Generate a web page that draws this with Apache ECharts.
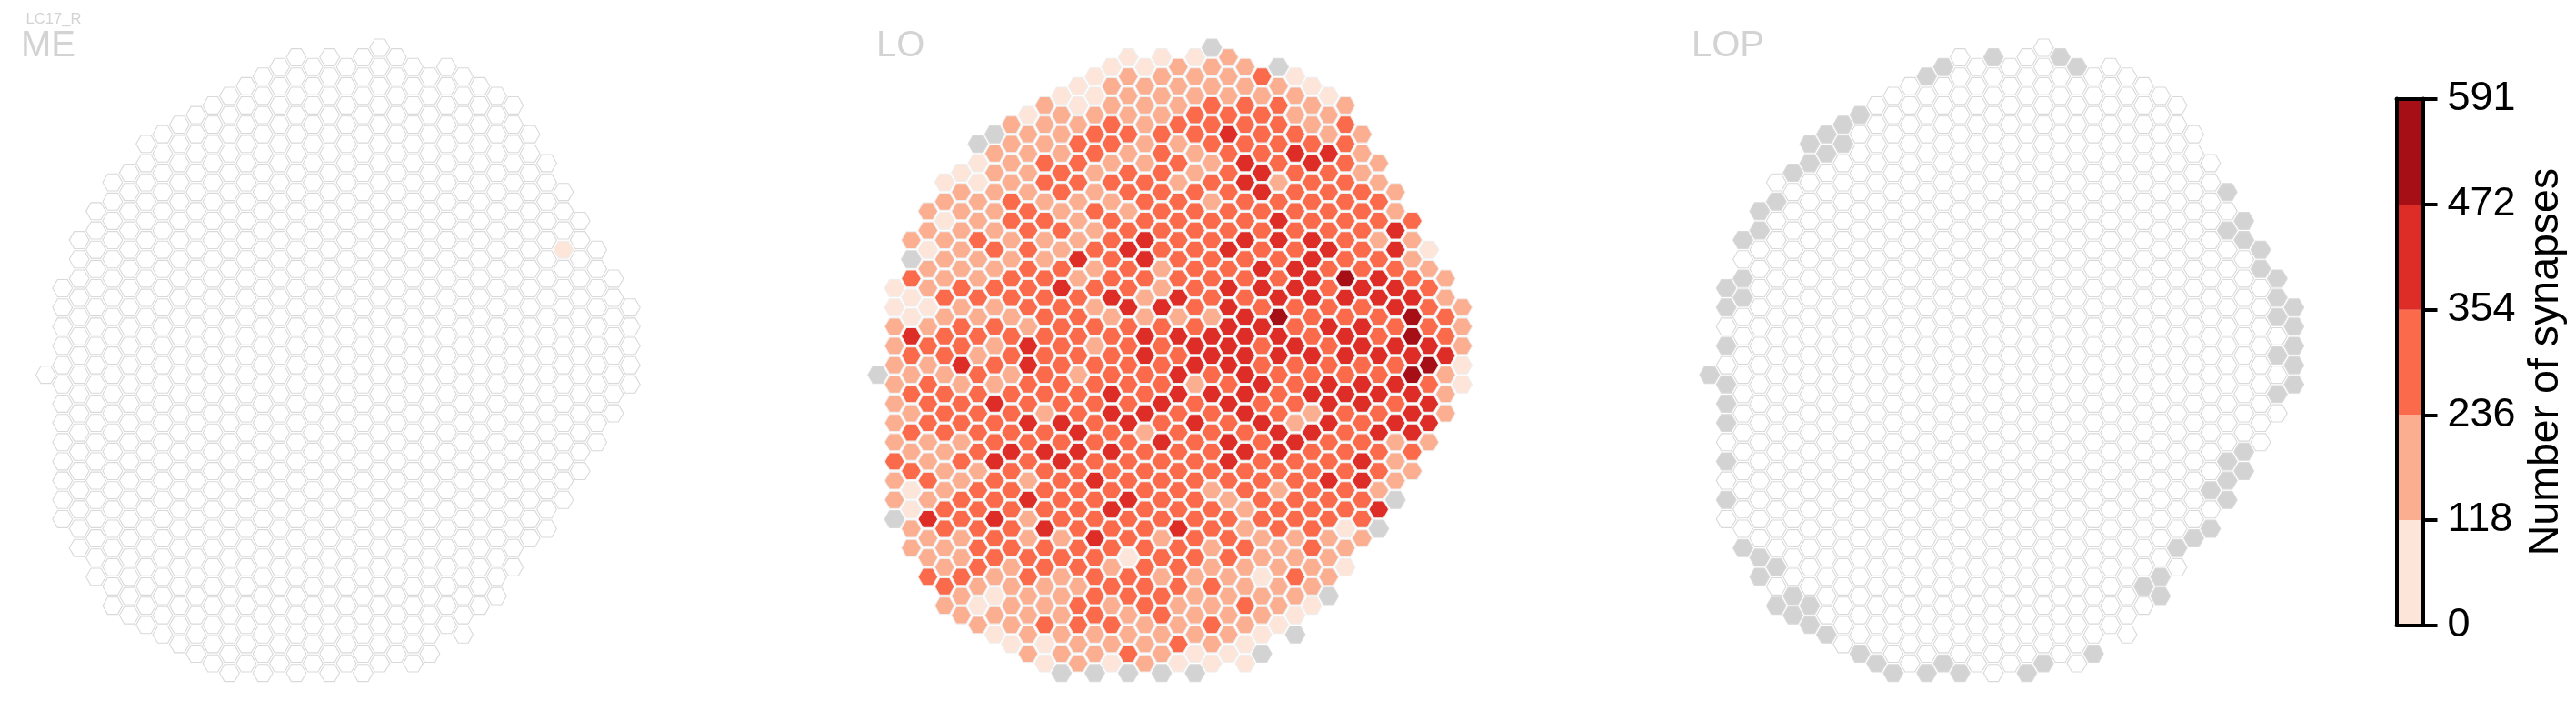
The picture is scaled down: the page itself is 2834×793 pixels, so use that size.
<!DOCTYPE html>
<html>
<head>
<meta charset="utf-8">
<style>html,body{margin:0;padding:0;background:#fff}#c{width:2834px;height:793px}</style>
<script src="https://cdn.jsdelivr.net/npm/echarts@6/dist/echarts.min.js"></script>
</head>
<body>
<div id="c"></div>
<script>
// Colour bins and colour-bar ticks
const BIN_EDGES = [0, 118, 236, 354, 472, 591];
const BIN_COLORS = ['#fee5d9', '#fcae91', '#fb6a4a', '#de2d26', '#a50f15'];
const EMPTY_COLOR = '#d3d3d3';
const NEURON = 'LC17_R';
const REGIONS = ['ME', 'LO', 'LOP'];
const COLORBAR_TITLE = 'Number of synapses';

// Hex lattice: first half-row of each column (all three regions share it)
const COLUMN_FIRST_ROW = [34,25,20,17,14,13,10,9,8,7,6,5,4,3,2,1,2,1,2,1,0,1,2,3,2,3,4,5,6,9,12,15,18,21,24,27];
const COLUMN_LENGTH = [1,13,17,20,23,24,26,27,28,29,30,31,31,32,32,33,32,33,32,33,33,32,32,31,30,30,28,27,25,22,20,17,14,11,8,5];

// LO: synapses per hex, column by column (0 = innervated column without synapses)
const LO_VALUES = [
[0],
[59,59,177,177,177,177,177,177,177,295,177,177,0],
[177,0,295,59,59,413,295,177,295,177,295,177,295,59,59,177,177],
[177,177,59,177,177,59,177,295,177,295,295,295,177,177,295,177,413,177,177,295],
[59,177,59,177,177,177,295,177,295,295,177,295,295,295,177,177,177,295,295,177,177,295,177],
[59,177,177,177,177,177,295,177,295,295,413,177,295,295,177,295,177,295,295,177,177,295,177,177],
[0,59,59,177,177,295,177,177,295,177,295,177,295,295,295,295,295,177,295,295,295,295,295,177,59,177],
[0,177,177,177,177,177,295,177,295,177,295,177,295,177,413,295,295,413,295,295,413,295,295,177,59,177,59],
[177,177,177,177,295,295,177,177,295,295,177,295,295,177,295,295,295,413,295,295,295,295,295,177,177,177,177,59],
[59,177,177,177,177,295,295,295,295,295,295,177,413,413,295,295,413,295,295,177,413,177,177,295,295,177,177,177,177],
[177,177,177,295,295,177,295,177,177,295,295,295,295,295,295,295,177,295,413,295,295,295,413,295,295,177,177,295,59,59],
[59,177,177,177,295,295,177,295,177,295,413,295,295,295,295,295,295,413,295,413,295,295,295,177,295,177,177,177,177,177,0],
[59,59,177,295,295,295,177,177,177,413,177,295,295,295,295,177,295,295,413,413,295,295,295,295,295,295,177,295,295,177,177],
[59,59,177,295,295,177,177,295,177,295,177,295,177,295,177,295,295,295,295,295,295,413,295,295,413,295,295,295,295,177,177,0],
[59,177,177,295,295,177,295,177,295,295,295,295,413,177,295,295,295,413,413,295,413,295,295,413,295,295,177,295,177,295,177,59],
[59,177,177,177,295,177,295,295,177,295,413,295,295,413,295,295,295,295,295,413,295,295,295,413,295,295,59,295,295,177,177,295,0],
[59,177,177,177,177,177,295,295,295,413,413,295,177,177,413,413,295,295,413,177,295,295,295,295,295,295,295,295,295,177,177,177],
[59,177,177,177,295,295,295,295,295,295,295,177,177,413,295,295,295,295,413,295,413,295,295,295,295,177,295,177,295,295,177,177,0],
[177,177,177,295,177,295,177,295,295,295,295,295,413,177,413,295,413,413,295,295,295,295,295,295,413,295,295,295,177,177,295,59],
[59,177,177,295,295,177,177,295,295,295,295,295,295,295,295,413,413,177,295,413,295,295,295,295,295,295,295,177,177,177,177,59,0],
[0,177,177,295,295,295,177,295,177,295,295,295,295,295,177,413,413,295,413,295,295,295,295,177,295,295,177,177,295,177,295,177,59],
[177,177,177,295,413,295,295,295,295,295,413,295,413,413,413,413,413,295,413,295,413,413,295,177,295,295,295,177,177,177,177,59],
[177,177,295,295,295,413,413,295,295,413,295,295,295,413,413,413,413,413,413,295,413,295,295,177,177,295,177,177,295,177,59,59],
[295,177,295,295,295,413,413,295,295,295,413,413,295,413,295,295,413,295,413,295,295,295,295,295,177,177,59,177,177,59,0],
[0,177,295,295,295,295,177,295,413,413,295,295,413,531,413,413,295,295,295,413,413,295,177,295,295,177,177,177,177,59],
[59,177,177,295,413,295,295,295,295,295,413,413,295,295,413,295,295,295,177,413,295,295,295,295,177,177,295,177,59,0],
[59,177,177,295,413,295,295,295,413,413,413,413,295,295,413,295,413,177,413,295,295,295,295,295,295,177,177,59],
[59,177,177,413,295,295,295,295,413,295,295,295,413,295,295,413,413,413,295,295,413,295,295,177,177,177,0],
[177,295,295,295,295,295,295,295,295,531,413,295,413,413,295,413,295,295,295,295,295,295,59,177,59],
[177,177,177,295,295,295,295,295,413,295,413,413,295,413,413,295,295,413,413,295,295,177],
[177,177,295,295,177,295,413,413,295,295,413,295,413,295,413,295,295,177,413,0],
[177,177,413,413,295,413,413,295,413,295,413,295,413,177,177,177,0],
[295,177,177,295,413,531,531,413,531,413,413,413,295,177],
[59,177,295,295,295,413,531,295,413,413,177],
[177,177,295,295,413,177,177,177],
[177,177,177,59,59]
];

// ME: the only hex with synapses [column, half-row, synapses]
const ME_HITS = [[31, 21, 59]];
// LOP: hexes of columns without synapses [column, half-row]
const LOP_EMPTY = [
[0,34],[1,25],[1,27],[1,31],[1,35],[1,37],[1,39],[1,43],[1,47],[2,20],[2,24],[2,26],[2,52],
[3,17],[3,19],[3,53],[3,55],[4,16],[4,54],[4,58],[5,13],[5,57],[5,59],[6,10],[6,12],[6,58],[6,60],
[7,9],[7,11],[7,61],[8,8],[8,10],[9,7],[9,63],[10,64],[11,65],[13,3],[13,65],[14,2],[14,64],[15,65],
[17,1],[19,65],[20,64],[21,1],[22,2],[23,63],[26,56],[27,55],[27,57],[28,52],[29,51],[30,46],[30,50],
[31,15],[31,19],[31,43],[31,45],[31,47],[32,18],[32,20],[32,42],[32,44],[33,21],[33,23],
[34,24],[34,26],[34,28],[34,32],[34,36],[35,27],[35,29],[35,31],[35,33],[35,35]
];

// Layout
const PANEL_LEFT = [50.4, 965.7, 1880.8];
const COL_STEP = 18.37, HALF_ROW_STEP = 10.58, PANEL_TOP = 52.5;
const HEX_SCALE = 0.89;
const STROKE = '#d9d9d9';
const TEXT_GREY = '#d3d3d3';
const FONT = '"Liberation Sans", Arial, sans-serif';

const nCols = COLUMN_FIRST_ROW.length;
const lastCol = nCols - 1;
const lastRow = 65;

function cellsFor(valueAt) {
  const out = [];
  for (let k = 0; k < nCols; k++) {
    for (let i = 0; i < COLUMN_LENGTH[k]; i++) {
      const h = COLUMN_FIRST_ROW[k] + 2 * i;
      out.push([k, h, valueAt(k, h, i)]);
    }
  }
  return out;
}
const has = (list, k, h) => list.some(c => c[0] === k && c[1] === h);
const meCells = cellsFor((k, h) => { const m = ME_HITS.find(c => c[0] === k && c[1] === h); return m ? m[2] : -1; });
const loCells = cellsFor((k, h, i) => LO_VALUES[k][i]);
const lopCells = cellsFor((k, h) => has(LOP_EMPTY, k, h) ? 0 : -1);

function fillFor(v) {
  if (v < 0) return '#ffffff';
  if (v === 0) return EMPTY_COLOR;
  for (let b = 0; b < BIN_COLORS.length; b++) if (v <= BIN_EDGES[b + 1]) return BIN_COLORS[b];
  return BIN_COLORS[BIN_COLORS.length - 1];
}
function renderHex(params, api) {
  const c = api.coord([api.value(0), api.value(1)]);
  const s = api.size([1, 0]);
  const R = s[0] / 1.5 * HEX_SCALE;
  const pts = [];
  for (let a = 0; a < 6; a++) {
    const t = a * Math.PI / 3;
    pts.push([c[0] + R * Math.cos(t), c[1] + R * Math.sin(t)]);
  }
  const v = api.value(2);
  return { type: 'polygon', shape: { points: pts },
    style: { fill: fillFor(v), stroke: v > 0 ? '#eeeeee' : STROKE, lineWidth: 1.1 } };
}

const grids = [], xAxes = [], yAxes = [], series = [];
[meCells, loCells, lopCells].forEach((cells, p) => {
  grids.push({ left: PANEL_LEFT[p], top: PANEL_TOP, width: lastCol * COL_STEP, height: lastRow * HALF_ROW_STEP, show: false });
  xAxes.push({ type: 'value', gridIndex: p, min: 0, max: lastCol, show: false });
  yAxes.push({ type: 'value', gridIndex: p, min: 0, max: lastRow, inverse: true, show: false });
  series.push({ type: 'custom', name: REGIONS[p], xAxisIndex: p, yAxisIndex: p, data: cells,
    encode: { x: 0, y: 1 }, renderItem: renderHex, clip: false, progressive: 0, silent: true });
});

// Colour bar
const cb = 3;
const cbFrame = { show: true, lineStyle: { color: '#000', width: 4 } };
grids.push({ left: 2636.5, top: 108.5, width: 29, height: 579, show: false });
xAxes.push({ type: 'category', gridIndex: cb, data: [''], position: 'bottom', z: 10, axisLine: { ...cbFrame, onZero: false }, axisTick: { show: false }, axisLabel: { show: false } });
xAxes.push({ type: 'category', gridIndex: cb, data: [''], position: 'top', z: 10, axisLine: { ...cbFrame, onZero: false }, axisTick: { show: false }, axisLabel: { show: false } });
yAxes.push({ type: 'value', gridIndex: cb, position: 'right', min: 0, max: 591, z: 10, splitLine: { show: false },
  axisLine: { ...cbFrame, onZero: false },
  axisTick: { show: true, length: 16, lineStyle: { color: '#000', width: 4 }, customValues: BIN_EDGES },
  axisLabel: { show: true, margin: 27, color: '#000', fontSize: 45, fontFamily: FONT, customValues: BIN_EDGES, formatter: v => String(v), padding: [14, 0, 0, 0] },
  name: COLORBAR_TITLE, nameLocation: 'middle', nameRotate: 90, nameGap: 112,
  nameTextStyle: { color: '#000', fontSize: 46.5, fontFamily: FONT } });
yAxes.push({ type: 'value', gridIndex: cb, position: 'left', min: 0, max: 591, z: 10, splitLine: { show: false },
  axisLine: { ...cbFrame, onZero: false }, axisTick: { show: false }, axisLabel: { show: false } });
BIN_COLORS.forEach((col, b) => {
  series.push({ type: 'bar', xAxisIndex: 3, yAxisIndex: 3, stack: 'cb', barWidth: '100%', silent: true,
    data: [BIN_EDGES[b + 1] - BIN_EDGES[b]], itemStyle: { color: col } });
});

const titles = [
  { text: NEURON, left: 28.5, top: 13, textStyle: { color: TEXT_GREY, fontSize: 16.6, fontWeight: 'normal', fontFamily: FONT } },
  { text: REGIONS[0], left: 23, top: 31, textStyle: { color: TEXT_GREY, fontSize: 40, fontWeight: 'normal', fontFamily: FONT } },
  { text: REGIONS[1], left: 964, top: 31, textStyle: { color: TEXT_GREY, fontSize: 40, fontWeight: 'normal', fontFamily: FONT } },
  { text: REGIONS[2], left: 1861, top: 31, textStyle: { color: TEXT_GREY, fontSize: 40, fontWeight: 'normal', fontFamily: FONT } }
].map(t => ({ ...t, padding: 0 }));

const chart = echarts.init(document.getElementById('c'), null, { renderer: 'canvas' });
chart.setOption({
  animation: false,
  backgroundColor: '#ffffff',
  title: titles,
  grid: grids,
  xAxis: xAxes,
  yAxis: yAxes,
  series: series
});
</script>
</body>
</html>
